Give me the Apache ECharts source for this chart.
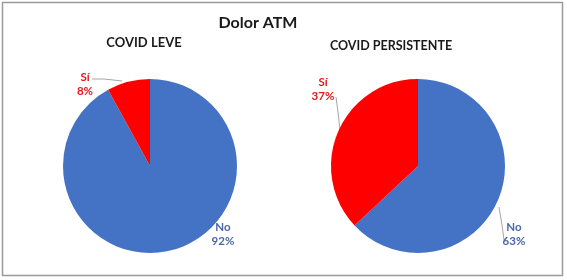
<!DOCTYPE html>
<html><head><meta charset="utf-8">
<script src="https://cdn.jsdelivr.net/npm/echarts@6/dist/echarts.min.js"></script>
<style>html,body{margin:0;padding:0;background:#fff}#c{width:567px;height:280px}</style>
</head><body><div id="c"></div>
<script>
const mainTitle = 'Dolor ATM';
const groupTitles = ['COVID LEVE', 'COVID PERSISTENTE'];
const categories = ['No', 'Sí'];
const leveValues = [92, 8];
const persistenteValues = [63, 37];

const colors = ['#4472C4', '#FF0000'];
const labelColors = ['#4A67A8', '#E0181C'];
const font = 'Lato, "Open Sans", sans-serif';

// label placement per [series][dataIndex]: x (centre), y (top) and leader line points
const labelPlaces = [
  [ {x:223, y:220, line:null},
    {x:85, y:70, line:[[92,79],[104,79],[122,81]]} ],
  [ {x:514, y:220, line:[[499,207],[502,225],[504,240]]},
    {x:323, y:75, line:[[336,97],[338,112],[340,130]]} ]
];

function mkData(vals){
  return categories.map((c,i)=>({name:c, value:vals[i],
    itemStyle:{color:colors[i]},
    label:{color:labelColors[i]}}));
}
function mkSeries(vals, cx){
  return {
    type:'pie', center:[cx,166], radius:87, startAngle:90, clockwise:true,
    animation:false, silent:true,
    data: mkData(vals),
    label:{show:true, position:'outside', formatter:'{b}\n{d}%', fontFamily:font,
      fontWeight:'bold', fontSize:11.5, lineHeight:14, align:'center'},
    labelLine:{show:true, length:8, length2:6, lineStyle:{color:'#A6A6A6', width:1}},
    labelLayout: function(p){
      const pl = labelPlaces[p.seriesIndex][p.dataIndex];
      const r = {x:pl.x, y:pl.y, align:'center', verticalAlign:'top'};
      r.labelLinePoints = pl.line ? pl.line : [[pl.x,pl.y],[pl.x,pl.y],[pl.x,pl.y]];
      return r;
    },
    itemStyle:{borderWidth:0}
  };
}
const chart = echarts.init(document.getElementById('c'));
chart.setOption({
  backgroundColor:'#fff',
  title:[
    {text:mainTitle, left:253, textAlign:'center', top:10, textStyle:{fontFamily:font, fontWeight:'bold', fontSize:16, color:'#1a1a1a'}},
    {text:groupTitles[0], left:139, textAlign:'center', top:31, textStyle:{fontFamily:font, fontWeight:'bold', fontSize:13, color:'#1a1a1a'}},
    {text:groupTitles[1], left:386, textAlign:'center', top:34, textStyle:{fontFamily:font, fontWeight:'bold', fontSize:12.5, color:'#1a1a1a'}}
  ],
  graphic:[{type:'rect', shape:{x:2.5,y:2.5,width:560,height:273}, style:{fill:null, stroke:'#9a9a9a', lineWidth:1.5}, silent:true}],
  series:[mkSeries(leveValues,150), mkSeries(persistenteValues,418)]
});
</script></body></html>
